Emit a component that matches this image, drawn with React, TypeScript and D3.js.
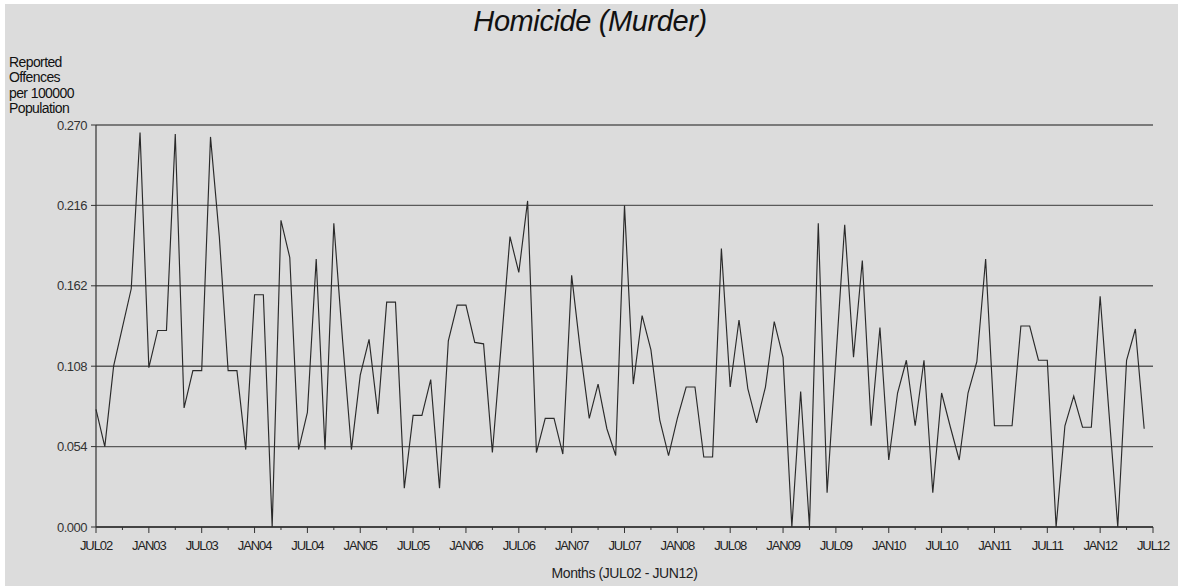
import React from "react";
import * as d3 from "d3";

const values: number[] = [
  0.079, 0.054, 0.108, 0.134, 0.160, 0.265, 0.107, 0.132, 0.132, 0.264,
  0.080, 0.105, 0.105, 0.262, 0.195, 0.105, 0.105, 0.052, 0.156, 0.156,
  0.000, 0.206, 0.181, 0.052, 0.077, 0.180, 0.052, 0.204, 0.125, 0.052,
  0.102, 0.126, 0.076, 0.151, 0.151, 0.026, 0.075, 0.075, 0.099, 0.026,
  0.125, 0.149, 0.149, 0.124, 0.123, 0.050, 0.122, 0.195, 0.171, 0.219,
  0.050, 0.073, 0.073, 0.049, 0.169, 0.118, 0.073, 0.096, 0.066, 0.048,
  0.216, 0.096, 0.142, 0.119, 0.072, 0.048, 0.073, 0.094, 0.094, 0.047,
  0.047, 0.187, 0.094, 0.139, 0.093, 0.070, 0.094, 0.138, 0.114, 0.000,
  0.091, 0.000, 0.204, 0.023, 0.113, 0.203, 0.114, 0.179, 0.068, 0.134,
  0.045, 0.090, 0.112, 0.068, 0.112, 0.023, 0.090, 0.067, 0.045, 0.090,
  0.111, 0.180, 0.068, 0.068, 0.068, 0.135, 0.135, 0.112, 0.112, 0.000,
  0.068, 0.088, 0.067, 0.067, 0.155, 0.077, 0.000, 0.112, 0.133, 0.066,
];

const xTickLabels: string[] = [
  "JUL02", "JAN03", "JUL03", "JAN04", "JUL04", "JAN05", "JUL05", "JAN06",
  "JUL06", "JAN07", "JUL07", "JAN08", "JUL08", "JAN09", "JUL09", "JAN10",
  "JUL10", "JAN11", "JUL11", "JAN12", "JUL12",
];

const yTicks: number[] = [0, 0.054, 0.108, 0.162, 0.216, 0.27];
const yTitleLines: string[] = ["Reported", "Offences", "per 100000", "Population"];
const title = "Homicide (Murder)";
const xTitle = "Months (JUL02 - JUN12)";

const W = 1178;
const H = 586;
const left = 96;
const right = 1153;
const top = 125;
const bottom = 527;
const FONT = "'Liberation Sans', Arial, sans-serif";

export default function App() {
  const x = d3.scaleLinear().domain([0, 120]).range([left, right]);
  const y = d3.scaleLinear().domain([0, 0.27]).range([bottom, top]);
  const line = d3
    .line<number>()
    .x((_, i) => x(i))
    .y((d) => y(d));
  const minorTicks = d3.range(0, 121, 3);

  return (
    <svg
      width={W}
      height={H}
      style={{ position: "absolute", left: 0, top: 0, background: "#ffffff" }}
      fontFamily={FONT}
    >
      <rect x={5} y={4} width={W - 5} height={H - 4} fill="#dcdcdc" />
      <text
        x={590}
        y={31}
        textAnchor="middle"
        fontSize={29}
        fontStyle="italic"
        fill="#111"
        letterSpacing={-0.4}
      >
        {title}
      </text>
      {yTitleLines.map((t, i) => (
        <text key={t} x={9} y={66.5 + i * 15.6} fontSize={14} fill="#111" letterSpacing={-0.6}>
          {t}
        </text>
      ))}
      {yTicks.map((t) => (
        <g key={t}>
          <line x1={left} x2={right} y1={y(t)} y2={y(t)} stroke="#5a5a5a" strokeWidth={1.4} />
          <line x1={left - 5} x2={left} y1={y(t)} y2={y(t)} stroke="#333" strokeWidth={1} />
          <text
            x={left - 9}
            y={y(t) + 4.5}
            textAnchor="end"
            fontSize={13}
            fill="#333"
            letterSpacing={-0.5}
          >
            {t.toFixed(3)}
          </text>
        </g>
      ))}
      <line x1={left} x2={left} y1={top} y2={bottom} stroke="#333" strokeWidth={1.2} />
      <line x1={left} x2={right} y1={bottom} y2={bottom} stroke="#333" strokeWidth={1.4} />
      {minorTicks.map((m) => (
        <line
          key={m}
          x1={x(m)}
          x2={x(m)}
          y1={bottom}
          y2={bottom + (m % 6 === 0 ? 6 : 3)}
          stroke="#333"
          strokeWidth={1}
        />
      ))}
      {xTickLabels.map((lab, i) => (
        <text
          key={lab}
          x={x(i * 6)}
          y={bottom + 23}
          textAnchor="middle"
          fontSize={13}
          fill="#222"
          letterSpacing={-1.1}
        >
          {lab}
        </text>
      ))}
      <text
        x={(left + right) / 2}
        y={578}
        textAnchor="middle"
        fontSize={14}
        fill="#222"
        letterSpacing={-0.4}
      >
        {xTitle}
      </text>
      <path d={line(values) || ""} fill="none" stroke="#2a2a2a" strokeWidth={1.15} strokeLinejoin="miter" />
    </svg>
  );
}
